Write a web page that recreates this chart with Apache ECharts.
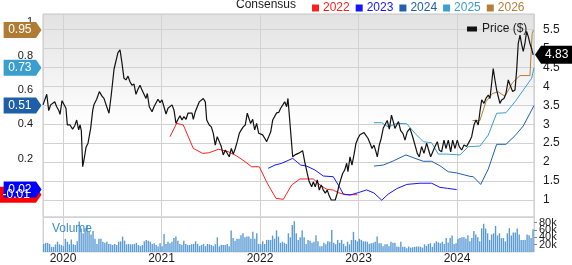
<!DOCTYPE html>
<html>
<head>
<meta charset="utf-8">
<script src="https://cdn.jsdelivr.net/npm/echarts@6/dist/echarts.min.js"></script>
<style>
html,body{margin:0;padding:0;background:#fff;}
#c{width:572px;height:265px;}
</style>
</head>
<body>
<div id="c"></div>
<script>
// ---- DATA (x values are decimal years) ----
const price = [[2019.797,3.51],[2019.814,3.55],[2019.835,3.79],[2019.855,3.36],[2019.875,3.51],[2019.895,3.49],[2019.916,3.59],[2019.936,3.46],[2019.956,3.37],[2019.970,3.26],[2019.990,3.62],[2020.010,3.62],[2020.030,3.42],[2020.044,2.98],[2020.071,2.98],[2020.098,2.87],[2020.119,2.96],[2020.139,3.11],[2020.159,2.85],[2020.173,2.98],[2020.186,2.83],[2020.200,1.88],[2020.213,2.06],[2020.234,2.39],[2020.254,2.50],[2020.281,2.89],[2020.302,3.37],[2020.315,3.52],[2020.342,3.66],[2020.369,3.86],[2020.396,3.74],[2020.416,3.68],[2020.444,3.46],[2020.467,3.29],[2020.490,3.77],[2020.518,4.45],[2020.538,4.47],[2020.558,4.89],[2020.579,4.96],[2020.599,4.61],[2020.619,4.21],[2020.640,4.17],[2020.660,4.27],[2020.680,4.12],[2020.700,4.03],[2020.721,4.06],[2020.741,3.79],[2020.761,3.92],[2020.782,4.03],[2020.802,3.90],[2020.822,3.90],[2020.843,3.68],[2020.856,3.81],[2020.876,3.46],[2020.904,3.33],[2020.924,3.46],[2020.944,3.51],[2020.964,3.66],[2020.985,3.57],[2021.005,3.64],[2021.025,3.46],[2021.046,3.27],[2021.066,3.42],[2021.086,3.37],[2021.107,3.51],[2021.127,3.37],[2021.147,3.02],[2021.168,3.13],[2021.188,3.22],[2021.208,3.11],[2021.228,3.20],[2021.249,3.13],[2021.269,3.29],[2021.289,3.33],[2021.310,3.29],[2021.323,3.13],[2021.343,3.33],[2021.363,3.29],[2021.384,3.59],[2021.404,3.64],[2021.424,3.68],[2021.445,3.59],[2021.459,3.11],[2021.485,2.98],[2021.506,2.93],[2021.526,2.76],[2021.546,2.45],[2021.566,2.67],[2021.587,2.54],[2021.607,2.41],[2021.627,2.19],[2021.648,2.32],[2021.668,2.27],[2021.688,2.14],[2021.709,2.36],[2021.729,2.21],[2021.749,2.36],[2021.769,2.54],[2021.790,2.76],[2021.810,2.85],[2021.830,2.93],[2021.851,2.98],[2021.871,3.29],[2021.891,3.13],[2021.905,3.02],[2021.926,3.13],[2021.946,2.85],[2021.966,3.02],[2021.987,2.76],[2022.007,2.72],[2022.027,2.72],[2022.048,2.63],[2022.068,2.54],[2022.088,2.50],[2022.109,2.80],[2022.129,3.11],[2022.149,3.16],[2022.169,3.30],[2022.190,3.31],[2022.210,3.42],[2022.230,3.46],[2022.251,3.59],[2022.271,3.46],[2022.284,3.68],[2022.332,2.14],[2022.355,2.19],[2022.389,2.23],[2022.433,2.30],[2022.457,1.97],[2022.480,1.70],[2022.500,1.48],[2022.525,1.35],[2022.541,1.48],[2022.561,1.35],[2022.582,1.53],[2022.602,1.26],[2022.622,1.40],[2022.643,1.26],[2022.663,1.18],[2022.683,1.26],[2022.703,1.11],[2022.724,1.00],[2022.744,1.04],[2022.764,1.00],[2022.785,1.18],[2022.799,1.35],[2022.819,1.53],[2022.839,1.70],[2022.860,1.79],[2022.880,1.97],[2022.893,1.75],[2022.914,2.14],[2022.934,1.92],[2022.954,2.19],[2022.975,2.50],[2022.995,2.63],[2023.015,2.72],[2023.035,2.67],[2023.056,2.78],[2023.076,2.76],[2023.096,2.63],[2023.117,2.50],[2023.137,2.36],[2023.157,2.45],[2023.178,2.27],[2023.191,2.14],[2023.211,2.45],[2023.231,2.63],[2023.252,2.90],[2023.272,2.94],[2023.292,3.10],[2023.313,2.87],[2023.335,3.24],[2023.355,3.05],[2023.370,2.89],[2023.388,2.90],[2023.406,3.07],[2023.428,2.83],[2023.452,2.75],[2023.472,2.58],[2023.495,2.80],[2023.523,2.89],[2023.550,2.67],[2023.574,2.45],[2023.597,2.23],[2023.617,2.14],[2023.641,2.41],[2023.665,2.23],[2023.692,2.50],[2023.712,2.32],[2023.733,2.14],[2023.753,2.14],[2023.777,2.41],[2023.800,2.54],[2023.820,2.32],[2023.844,2.27],[2023.868,2.58],[2023.888,2.36],[2023.912,2.58],[2023.936,2.27],[2023.956,2.58],[2023.980,2.36],[2024.003,2.58],[2024.023,2.41],[2024.048,2.32],[2024.071,2.45],[2024.098,2.41],[2024.125,2.54],[2024.149,2.67],[2024.173,2.98],[2024.193,3.11],[2024.216,2.98],[2024.233,3.33],[2024.251,3.64],[2024.274,3.55],[2024.294,3.68],[2024.318,3.77],[2024.335,3.68],[2024.352,4.08],[2024.368,4.47],[2024.386,4.16],[2024.403,3.90],[2024.419,3.86],[2024.436,3.55],[2024.453,3.64],[2024.477,3.68],[2024.497,3.81],[2024.521,4.17],[2024.538,4.04],[2024.565,3.86],[2024.589,3.90],[2024.606,4.43],[2024.622,5.13],[2024.640,5.35],[2024.657,5.10],[2024.673,4.92],[2024.690,5.13],[2024.707,5.45],[2024.724,5.31],[2024.741,5.13],[2024.758,4.99],[2024.774,4.83]];

const cons2022 = [[2021.086,0.328],[2021.154,0.406],[2021.221,0.397],[2021.323,0.26],[2021.418,0.231],[2021.485,0.235],[2021.577,0.255],[2021.678,0.241],[2021.763,0.216],[2021.848,0.183],[2021.916,0.153],[2021.993,0.153],[2022.074,0.057],[2022.162,-0.031],[2022.237,-0.037],[2022.322,0.047],[2022.406,0.082],[2022.541,0.082],[2022.609,0.047],[2022.677,0.022],[2022.744,0.017],[2022.795,0.002],[2022.863,-0.01],[2022.988,-0.01]];
const cons2023 = [[2022.084,0.144],[2022.152,0.163],[2022.220,0.173],[2022.332,0.202],[2022.413,0.163],[2022.474,0.157],[2022.558,0.134],[2022.643,0.099],[2022.744,0.095],[2022.805,0.037],[2022.846,-0.006],[2022.914,-0.012],[2022.998,0.002],[2023.083,0.018],[2023.157,0.0],[2023.236,-0.042],[2023.303,-0.006],[2023.388,0.025],[2023.490,0.05],[2023.624,0.057],[2023.743,0.057],[2023.827,0.033],[2023.904,0.027],[2023.997,0.02]];
const cons2024 = [[2023.157,0.157],[2023.252,0.163],[2023.353,0.187],[2023.482,0.222],[2023.574,0.202],[2023.658,0.185],[2023.743,0.185],[2023.827,0.159],[2023.912,0.124],[2023.997,0.117],[2024.132,0.097],[2024.166,0.095],[2024.241,0.05],[2024.318,0.14],[2024.403,0.284],[2024.497,0.284],[2024.589,0.334],[2024.673,0.391],[2024.782,0.51]];
const cons2025 = [[2023.157,0.41],[2023.236,0.41],[2023.303,0.385],[2023.388,0.406],[2023.490,0.404],[2023.574,0.348],[2023.658,0.299],[2023.743,0.293],[2023.810,0.227],[2023.896,0.227],[2024.030,0.222],[2024.115,0.27],[2024.233,0.274],[2024.318,0.338],[2024.403,0.465],[2024.497,0.468],[2024.589,0.532],[2024.673,0.60],[2024.758,0.669],[2024.782,0.73]];
const cons2026 = [[2024.158,0.423],[2024.233,0.423],[2024.294,0.532],[2024.360,0.58],[2024.419,0.59],[2024.487,0.564],[2024.563,0.643],[2024.640,0.685],[2024.741,0.685],[2024.763,0.93],[2024.776,0.95]];

const consYears = ['2022','2023','2024','2025','2026'];
const consLatest = [-0.01, 0.02, 0.51, 0.73, 0.95];
const lastPrice = 4.83;

// weekly volume, thousands of shares (Oct 2019 .. Oct 2024)
const volumeK = [22,25,25,22,14,14,21,28,21,19,16,36,28,21,34,21,19,29,83,64,51,64,74,55,48,57,36,22,36,36,28,25,28,22,21,19,22,19,28,29,42,31,21,22,21,21,22,25,19,16,19,29,33,31,28,22,24,19,15,24,16,49,22,28,24,28,38,42,31,22,19,31,22,19,19,21,22,29,22,16,19,22,
16,22,21,19,16,21,40,16,19,19,19,22,16,59,38,31,36,36,46,51,40,42,42,36,55,36,51,22,21,29,22,33,33,33,45,36,59,42,25,28,25,22,51,40,74,84,51,33,40,59,40,22,33,31,25,28,46,29,16,16,25,21,29,28,60,25,21,33,25,33,22,16,28,21,33,55,33,29,36,33,29,29,
28,22,24,25,28,42,24,24,16,21,21,16,28,25,25,15,14,28,14,14,10,15,12,13,14,15,15,14,12,21,17,22,24,14,24,29,26,24,28,22,38,26,38,45,22,24,36,38,40,41,36,46,29,38,57,48,40,29,65,77,64,51,33,48,51,71,45,51,38,38,29,51,65,45,53,53,64,48,33,33,33,48,46,38,62];
const volStart = 2019.804, volEnd = 2024.772;

const colors = {
  '2022':'#ff1f1f','2023':'#1515ff','2024':'#2060ad','2025':'#3a9fd2','2026':'#b3803a'
};
const FONT = "'Liberation Sans', Arial, sans-serif";

const chart = echarts.init(document.getElementById('c'), null, {renderer:'canvas'});

const volData = volumeK.map((v,i)=>[volStart + i*(volEnd-volStart)/(volumeK.length-1), v*1000]);
const consData = {'2022':cons2022,'2023':cons2023,'2024':cons2024,'2025':cons2025,'2026':cons2026};

const xMin = 2019.797, xMax = 2024.782;
const gridLine = {show:true, lineStyle:{color:'#d2d2d2', width:1}};

const option = {
  animation:false,
  textStyle:{fontFamily:FONT},
  grid:[
    {left:43, right:38, top:14, height:203, show:true, borderColor:'#c6c6c6', borderWidth:1,
     backgroundColor:new echarts.graphic.LinearGradient(0,0,0,1,[{offset:0,color:'#e2e2e2'},{offset:0.55,color:'#ffffff'},{offset:1,color:'#ffffff'}])},
    {left:43, right:38, top:217, height:37, show:true, borderColor:'#d6d6d6', borderWidth:1, backgroundColor:'#fff'}
  ],
  xAxis:[
    {type:'value', gridIndex:0, min:xMin, max:xMax, splitNumber:5, axisLabel:{show:false}, axisTick:{show:false}, axisLine:{show:false}, splitLine:gridLine},
    {type:'value', gridIndex:1, min:xMin, max:xMax, splitNumber:5, axisTick:{show:false}, axisLine:{show:false}, splitLine:gridLine,
     axisLabel:{show:true, formatter:v=>String(Math.round(v)), showMinLabel:false, showMaxLabel:false, color:'#1a1a1a', fontSize:12, margin:1}}
  ],
  yAxis:[
    {type:'value', gridIndex:0, position:'left', min:-0.140, max:1.044, splitNumber:6, splitLine:{show:false},
     axisLine:{show:false}, axisTick:{show:false},
     axisLabel:{color:'#1a1a1a', fontSize:11, margin:10, showMinLabel:false, showMaxLabel:false}},
    {type:'value', gridIndex:0, position:'right', min:0.5515, max:5.908, splitNumber:10, splitLine:gridLine,
     axisLine:{show:false}, axisTick:{show:false},
     axisLabel:{color:'#1a1a1a', fontSize:12, margin:9, showMinLabel:false, showMaxLabel:false}},
    {type:'value', gridIndex:1, position:'right', min:0, max:95500, interval:20000, splitLine:{show:false},
     axisLine:{show:false}, axisTick:{show:true, length:3, lineStyle:{color:'#888'}},
     axisLabel:{color:'#1a1a1a', fontSize:11, margin:5, showMaxLabel:false, formatter:v=>v===0?'0':(v/1000)+'k'}}
  ],
  legend:[
    {data:consYears.map(y=>({name:y, textStyle:{color:colors[y]}})), left:307, top:-3, icon:'rect', itemWidth:7, itemHeight:7, itemGap:6,
     selectedMode:false, textStyle:{fontSize:12, fontFamily:FONT, padding:[0,0,0,-1]}},
    {data:['Price ($)'], left:462, top:18, icon:'rect', itemWidth:10, itemHeight:5, selectedMode:false,
     textStyle:{fontSize:12, color:'#1a1a1a', fontFamily:FONT}}
  ],
  series:[
    ...consYears.map(y=>({
      name:y, type:'line', xAxisIndex:0, yAxisIndex:0, data:consData[y], showSymbol:false, symbol:'none',
      color:colors[y], itemStyle:{color:colors[y]}, lineStyle:{color:colors[y], width:1}, z:3
    })),
    {name:'Price ($)', type:'line', xAxisIndex:0, yAxisIndex:1, data:price, showSymbol:false, symbol:'none',
     color:'#111', itemStyle:{color:'#111'}, lineStyle:{color:'#111', width:1.2}, z:4},
    {name:'Volume', type:'bar', xAxisIndex:1, yAxisIndex:2, data:volData, barWidth:1.4,
     itemStyle:{color:'#5b9bd5'}, z:2}
  ]
};
chart.setOption(option);

// value tags drawn from the axes' own scales
const g = [];
const tagColors = consYears.map(y=>colors[y]);
const tagFill = {'2022':'#ff0000','2023':'#0000ff','2024':'#1f5fa8','2025':'#3a9fcf','2026':'#b07c33'};
consYears.forEach((y,i)=>{
  const v = consLatest[i];
  const py = chart.convertToPixel({yAxisIndex:0}, v);
  const txt = v.toFixed(2);
  const tw = echarts.format.getTextRect ? 0 : 0;
  const w = txt.length*6.67 - (txt.indexOf('-')>=0 ? 2.7 : 3.3) + 9;
  const right = 36, left = right - w;
  g.push({type:'polygon', z:100, shape:{points:[[left,py-8],[right,py-8],[41.5,py],[right,py+8],[left,py+8]]}, style:{fill:tagFill[y]}});
  g.push({type:'text', z:101, x:(left+right)/2, y:py, style:{text:txt, fill:'#fff', font:'12px '+FONT, align:'center', verticalAlign:'middle', textAlign:'center', textVerticalAlign:'middle'}});
});
const pp = chart.convertToPixel({yAxisIndex:1}, lastPrice);
g.push({type:'polygon', z:100, shape:{points:[[535,pp],[541,pp-9],[575,pp-9],[575,pp+9],[541,pp+9]]}, style:{fill:'#000'}});
g.push({type:'text', z:101, x:545, y:pp, style:{text:lastPrice.toFixed(2), fill:'#fff', font:'12px '+FONT, align:'left', verticalAlign:'middle', textAlign:'left', textVerticalAlign:'middle'}});
g.push({type:'text', z:50, x:236, y:4.5, style:{text:'Consensus', fill:'#1a1a1a', font:'12px '+FONT, verticalAlign:'middle', textVerticalAlign:'middle'}});
g.push({type:'text', z:50, x:52, y:229, style:{text:'Volume', fill:'#3d8fd1', font:'12px '+FONT, verticalAlign:'middle', textVerticalAlign:'middle'}});
chart.setOption({graphic:g});
</script>
</body>
</html>
